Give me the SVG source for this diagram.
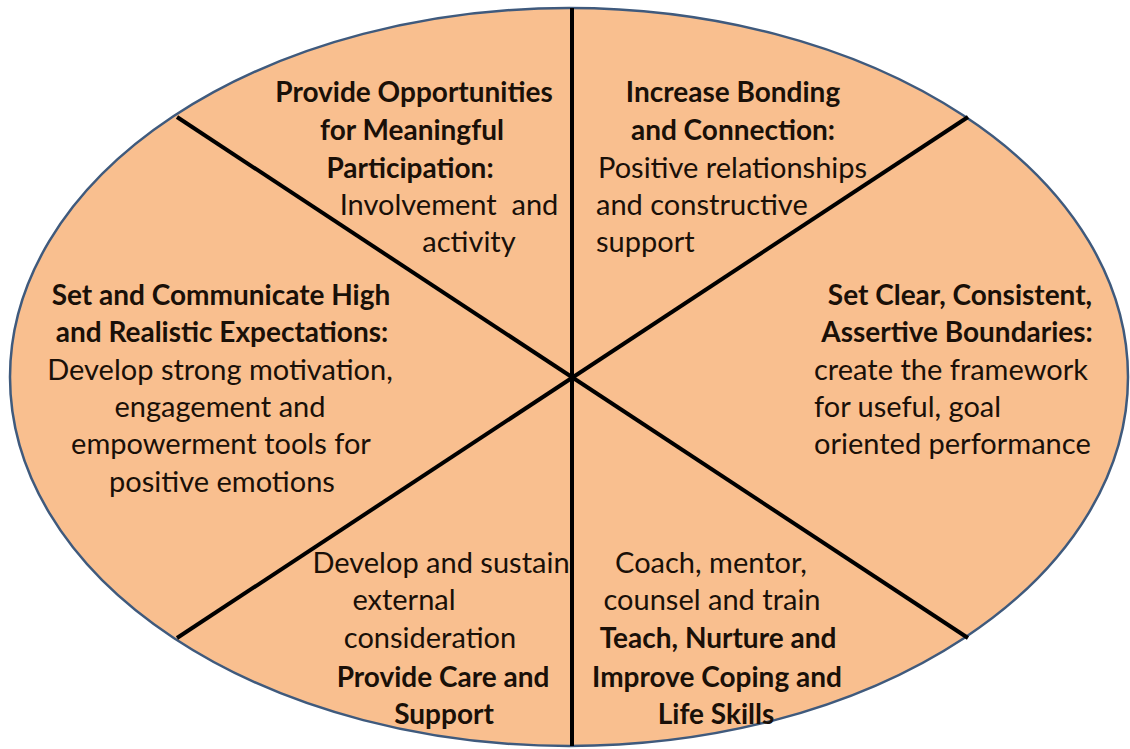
<svg xmlns="http://www.w3.org/2000/svg" width="1130" height="749" viewBox="0 0 1130 749">
  <style>
    .disc { fill: #f9bf8f; stroke: #3f5a7d; stroke-width: 2.5; }
    .divider { stroke: #000; stroke-width: 4; stroke-linecap: butt; }
    text { font-family: Lato, "Open Sans", sans-serif; font-size: 29px; fill: #1a1008; }
    .b { font-weight: bold; font-size: 28px; }
    .m { text-anchor: middle; }
  </style>

  <!-- background disc -->
  <ellipse class="disc" cx="569" cy="377" rx="559" ry="369"/>

  <!-- dividing lines -->
  <g id="connectors">
    <line class="divider" x1="572" y1="8" x2="572" y2="746"/>
    <line class="divider" x1="177" y1="117" x2="968" y2="638"/>
    <line class="divider" x1="968" y1="117" x2="177" y2="638"/>
  </g>

  <g id="participation">
    <text class="b m" x="414" y="102">Provide Opportunities</text>
    <text class="b m" x="412" y="140">for Meaningful</text>
    <text class="b m" x="410" y="178">Participation:</text>
    <text class="m" x="449" y="215" xml:space="preserve">Involvement  and</text>
    <text class="m" x="469" y="252">activity</text>
  </g>

  <g id="bonding">
    <text class="b m" x="733" y="102">Increase Bonding</text>
    <text class="b m" x="733" y="140">and Connection:</text>
    <text x="598" y="178">Positive relationships</text>
    <text x="596" y="215">and constructive</text>
    <text x="596" y="252">support</text>
  </g>

  <g id="expectations">
    <text class="b m" x="221" y="305">Set and Communicate High</text>
    <text class="b m" x="222" y="342">and Realistic Expectations:</text>
    <text class="m" x="220" y="380">Develop strong motivation,</text>
    <text class="m" x="220" y="417">engagement and</text>
    <text class="m" x="221" y="454">empowerment tools for</text>
    <text class="m" x="222" y="492">positive emotions</text>
  </g>

  <g id="boundaries">
    <text class="b m" x="960" y="305">Set Clear, Consistent,</text>
    <text class="b m" x="957" y="342">Assertive Boundaries:</text>
    <text x="814" y="380">create the framework</text>
    <text x="814" y="417">for useful, goal</text>
    <text x="814" y="454">oriented performance</text>
  </g>

  <g id="care">
    <text class="m" x="441" y="573">Develop and sustain</text>
    <text class="m" x="404" y="610">external</text>
    <text class="m" x="430" y="648">consideration</text>
    <text class="b m" x="443" y="687">Provide Care and</text>
    <text class="b m" x="444" y="724">Support</text>
  </g>

  <g id="coping">
    <text class="m" x="711" y="573">Coach, mentor,</text>
    <text class="m" x="712" y="610">counsel and train</text>
    <text class="b m" x="718" y="648">Teach, Nurture and</text>
    <text class="b m" x="717" y="687">Improve Coping and</text>
    <text class="b m" x="716" y="724">Life Skills</text>
  </g>
</svg>
